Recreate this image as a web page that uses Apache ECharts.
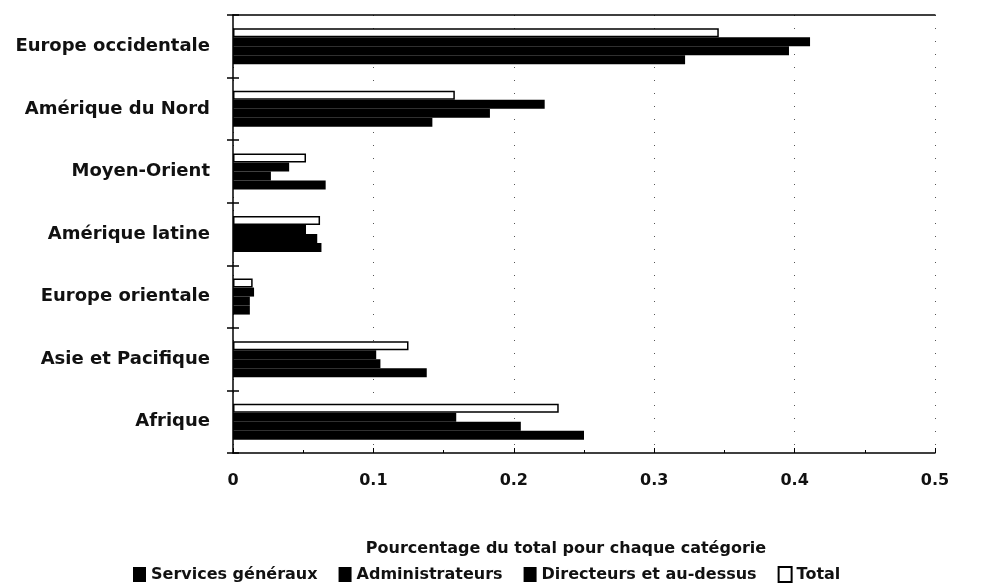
<!DOCTYPE html>
<html>
<head>
<meta charset="utf-8">
<script src="https://cdn.jsdelivr.net/npm/echarts@6/dist/echarts.min.js"></script>
<style>
  html, body { margin: 0; padding: 0; background: #fff; }
  #chart { width: 1005px; height: 584px; }
</style>
</head>
<body>
<div id="chart"></div>
<script>
  // regions, bottom to top as drawn
  const regions = ['Afrique', 'Asie et Pacifique', 'Europe orientale', 'Amérique latine',
    'Moyen-Orient', 'Amérique du Nord', 'Europe occidentale'];
  const servicesGeneraux = [0.250, 0.138, 0.012, 0.063, 0.066, 0.142, 0.322];
  const administrateurs = [0.205, 0.105, 0.012, 0.060, 0.027, 0.183, 0.396];
  const directeurs = [0.159, 0.102, 0.015, 0.052, 0.040, 0.222, 0.411];
  const total = [0.232, 0.125, 0.014, 0.062, 0.052, 0.158, 0.346];

  const font = 'DejaVu Sans';
  const chart = echarts.init(document.getElementById('chart'));

  function blackBar(name, data) {
    return {
      name: name,
      type: 'bar',
      data: data,
      barWidth: 9,
      barGap: '0%',
      itemStyle: { color: '#000' }
    };
  }

  chart.setOption({
    animation: false,
    textStyle: { fontFamily: font, color: '#000' },
    grid: { left: 233, right: 70, top: 15, bottom: 131 },
    legend: {
      left: 128,
      top: 561,
      itemWidth: 13,
      itemHeight: 15,
      itemGap: 21,
      icon: 'rect',
      textStyle: { fontFamily: font, fontSize: 16, fontWeight: 'bold', color: '#111' },
      data: ['Services généraux', 'Administrateurs', 'Directeurs et au-dessus', 'Total']
    },
    xAxis: [{
      type: 'value',
      min: 0,
      max: 0.5,
      interval: 0.1,
      name: 'Pourcentage du total pour chaque catégorie',
      nameLocation: 'middle',
      nameGap: 88,
      nameTextStyle: { fontFamily: font, fontSize: 16, fontWeight: 'bold', color: '#111', padding: [0, 36, 0, 0] },
      axisLine: { show: true, lineStyle: { color: '#000', width: 1.5 } },
      axisTick: { show: true, inside: true, length: 5, lineStyle: { color: '#000' } },
      minorTick: { show: true, splitNumber: 2, length: 3, lineStyle: { color: '#000' } },
      axisLabel: { margin: 20, fontFamily: font, fontSize: 16, fontWeight: 'bold', color: '#111' },
      splitLine: { show: true, lineStyle: { color: '#555', type: [1, 12], width: 1 } }
    }, {
      type: 'value',
      position: 'top',
      min: 0,
      max: 0.5,
      axisLine: { show: true, lineStyle: { color: '#000', width: 1.5 } },
      axisTick: { show: false },
      axisLabel: { show: false },
      splitLine: { show: false }
    }],
    yAxis: [{
      type: 'category',
      data: regions,
      axisLine: { show: true, lineStyle: { color: '#000', width: 1.5 } },
      axisTick: { show: true, length: 6, lineStyle: { color: '#000', width: 1.5 } },
      axisLabel: { margin: 23, fontFamily: font, fontSize: 18, fontWeight: 'bold', color: '#111' }
    }, {
      type: 'category',
      data: regions,
      position: 'left',
      axisLine: { show: false },
      axisTick: { show: true, inside: true, length: 6, lineStyle: { color: '#000', width: 1.5 } },
      axisLabel: { show: false }
    }],
    // listed top bar first, so Total sits on top of each group
    series: [
      {
        name: 'Total',
        type: 'bar',
        data: total,
        barWidth: 9,
        barGap: '0%',
        itemStyle: { color: '#fff', borderColor: '#000', borderWidth: 1.5 }
      },
      blackBar('Directeurs et au-dessus', directeurs),
      blackBar('Administrateurs', administrateurs),
      blackBar('Services généraux', servicesGeneraux)
    ]
  });
</script>
</body>
</html>
